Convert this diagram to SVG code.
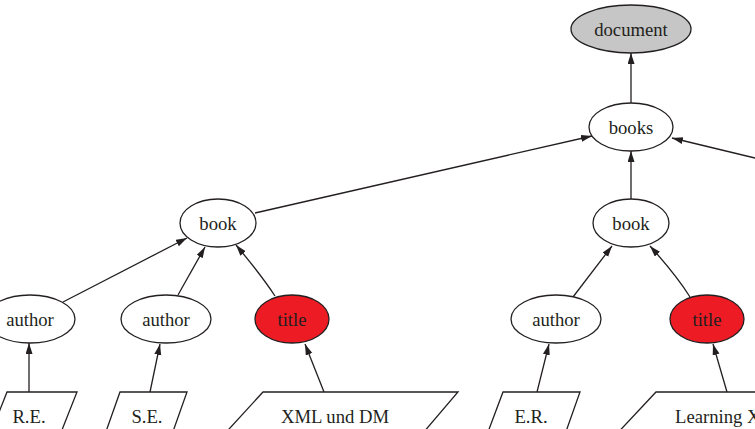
<svg xmlns="http://www.w3.org/2000/svg" width="755" height="429" viewBox="0 0 755 429">
<style>
.n{fill:#fff;stroke:#231f20;stroke-width:1.3}
.g{fill:#c6c6c6}
.r{fill:#ed1c24}
text{font-family:'Liberation Serif','Times New Roman','DejaVu Serif',serif;font-size:18.67px;fill:#231f20;text-anchor:middle}
.e{fill:none;stroke:#231f20;stroke-width:1.3;marker-end:url(#ah)}
</style>
<defs>
<marker id="ah" markerUnits="userSpaceOnUse" markerWidth="12" markerHeight="8" refX="11" refY="3.5" orient="auto">
<path d="M0,0 L11,3.5 L0,7 z" fill="#231f20"/>
</marker>
</defs>
<g id="connectors">
<path class="e" d="M631,103 L631,53"/>
<path class="e" d="M255,213 L592,136"/>
<path class="e" d="M631,199 L631,151"/>
<path class="e" d="M755,158 L672,138"/>
<path class="e" d="M63,302 L187,238"/>
<path class="e" d="M178,295 L205,247"/>
<path class="e" d="M275,296 Q262,276 236,245"/>
<path class="e" d="M573,297 L612,246"/>
<path class="e" d="M690,297 Q677,276 650,246"/>
<path class="e" d="M29,392 L29,343"/>
<path class="e" d="M150,392 L160,344"/>
<path class="e" d="M324,392 L305,344"/>
<path class="e" d="M537,392 L549,344"/>
<path class="e" d="M727,392 L713,344"/>
</g>
<g id="document"><ellipse class="n g" cx="631" cy="29" rx="60" ry="24"/><text font-family="Liberation Serif, serif" x="631" y="35.5">document</text></g>
<g id="books"><ellipse class="n" cx="631" cy="127" rx="42" ry="24"/><text x="631" y="133.5">books</text></g>
<g id="book1"><ellipse class="n" cx="218" cy="223" rx="38" ry="24"/><text x="218" y="229.5">book</text></g>
<g id="book2"><ellipse class="n" cx="631" cy="223" rx="38" ry="24"/><text x="631" y="229.5">book</text></g>
<g id="author1"><ellipse class="n" cx="30" cy="319" rx="45" ry="24"/><text x="30" y="325.5">author</text></g>
<g id="author2"><ellipse class="n" cx="166" cy="319" rx="45" ry="24"/><text x="166" y="325.5">author</text></g>
<g id="title1"><ellipse class="n r" cx="292" cy="319" rx="37" ry="24"/><text x="292" y="325.5">title</text></g>
<g id="author3"><ellipse class="n" cx="556" cy="319" rx="45" ry="24"/><text x="556" y="325.5">author</text></g>
<g id="title2"><ellipse class="n r" cx="707" cy="319" rx="37" ry="24"/><text x="707" y="325.5">title</text></g>
<g id="leaf1"><polygon class="n" points="7,392 77,392 58,440 -12,440"/><text x="29" y="423">R.E.</text></g>
<g id="leaf2"><polygon class="n" points="120,392 187,392 170,440 103,440"/><text x="147" y="423">S.E.</text></g>
<g id="leaf3"><polygon class="n" points="263,392 458,392 417,440 219,440"/><text x="335" y="423">XML und DM</text></g>
<g id="leaf4"><polygon class="n" points="503,392 580,392 563,440 485,440"/><text x="531" y="423">E.R.</text></g>
<g id="leaf5"><polygon class="n" points="656,392 820,392 775,440 611,440"/><text x="675" y="423" style="text-anchor:start">Learning XML</text></g>
</svg>
